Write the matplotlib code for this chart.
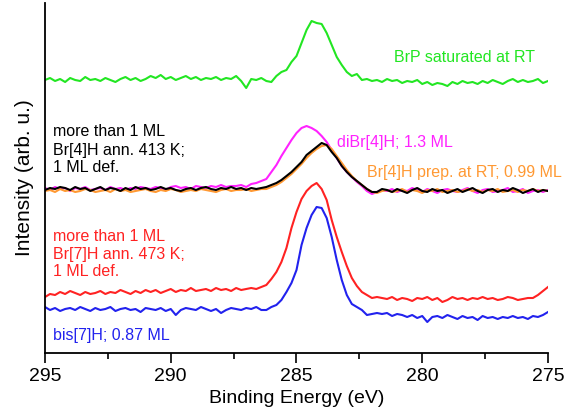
import numpy as np
import matplotlib.pyplot as plt

plt.rcParams['font.family'] = ['Liberation Sans', 'DejaVu Sans']

# binding energy grid (eV), 0.2 eV steps from 295 down to 275
energy = np.linspace(295.0, 275.0, 101)

# Br 3d / Br region spectra, background-levelled intensities (arb. u.)
brp_sat = [0, 2, -1, 1, -2, 2, 0, -1, 3, 0,
           1, -1, 2, 0, -2, 1, 3, 0, 2, -1,
           1, 4, 2, 5, 1, 3, 0, 2, 4, 1,
           3, 0, 2, 1, 3, 0, 2, 1, 4, -1,
           -8, 1, 0, 2, -1, -2, 4, 8, 10, 18,
           24, 37, 50, 59, 57, 56, 47, 35, 23, 15,
           8, 4, 6, 0, 1, -1, 0, -2, 1, -1,
           0, -3, -1, -2, 0, -4, -2, -5, -3, -4,
           -6, -2, -4, -1, -3, -2, -4, -1, -3, 0,
           -2, -4, -1, 1, -2, 0, -2, -1, 1, -3,
           -1]

dibr4h = [1, -1, 2, 0, 1, -2, 1, 0, 2, -1,
          0, 1, -1, 2, 0, 1, -1, 1, 0, 2,
          1, 0, 2, 1, -1, 2, 3, 1, 2, 0,
          3, 2, 1, 3, 2, 4, 2, 3, 3, 4,
          2, 5, 6, 8, 10, 17, 24, 33, 41, 49,
          56, 61, 63, 61, 58, 53, 47, 39, 31, 23,
          17, 12, 7, 3, -2, -5, -3, -1, -2, 0,
          -3, -1, -2, 1, -1, -3, 0, -2, -4, -1,
          0, -2, -3, -1, 1, -2, -4, -1, 0, -3,
          -2, -1, 1, -3, -2, 0, -4, -2, -1, -3,
          -1]

br4h_rt = [-2, -1, -3, 0, -2, -1, -3, -2, 0, -1,
           -3, -2, -1, -3, 0, -2, -1, -3, -2, -1,
           0, -2, -3, -1, -2, 0, -1, -3, -2, -1,
           -2, 0, -1, -2, -3, -1, 0, -2, -1, -1,
           0, -2, -1, 0, 0, 2, 4, 7, 11, 15,
           20, 25, 31, 36, 40, 43, 44, 40, 33, 26,
           19, 13, 8, 4, 0, -3, -4, -2, -1, -3,
           -2, 0, -3, -1, -2, -4, -1, -2, 0, -3,
           -2, -1, -3, -2, 0, -2, -1, -3, -1, -2,
           0, -3, -2, -1, -3, -1, -2, 0, -2, -1,
           -2]

br4h_ann = [-1, 1, 0, 2, 1, -1, 2, 0, 1, -2,
            0, 2, -1, 1, 0, -2, 1, -1, 2, 0,
            1, -1, 0, 2, 0, 1, -1, -2, 0, 1,
            -1, 1, 2, 0, -1, 1, 0, 2, 0, 1,
            -1, 1, 0, 1, 2, 4, 6, 9, 13, 17,
            22, 27, 34, 38, 42, 46, 44, 37, 31, 23,
            17, 12, 8, 4, 0, -3, -3, 0, -1, -3,
            0, -2, -4, -1, 1, -2, -3, 0, -2, -1,
            -4, -2, 0, -3, -1, 1, -2, -4, -1, 0,
            -3, -1, -2, 1, -1, -4, -2, 0, -3, -1,
            -2]

br7h_ann = [-2, 1, 0, 3, 1, 4, 2, 0, 3, 1,
            2, 4, 1, 3, 2, 5, 3, 1, 4, 2,
            5, 3, 5, 2, 4, 6, 3, 5, 4, 7,
            4, 5, 6, 4, 7, 5, 6, 4, 7, 5,
            6, 7, 6, 8, 10, 16, 23, 33, 47, 67,
            83, 96, 104, 109, 112, 106, 95, 75, 58, 43,
            29, 17, 9, 3, 0, -3, -2, -3, -4, -2,
            -5, -3, -4, -6, -3, -4, -2, -5, -3, -7,
            -5, -2, -4, -3, -5, -3, -4, -2, -4, -3,
            -5, -4, -2, -3, -5, -4, -3, -3, 0, 4,
            8]

bis7h = [1, -2, 0, -3, -1, 0, -2, 1, -1, -3,
         0, -2, -1, 1, -3, -1, 0, -2, -1, -4,
         0, -1, -2, 0, -3, -1, -7, -2, 0, -1,
         -2, 1, -1, -3, -1, -5, -2, 0, -1, -2,
         0, -1, 1, -2, -2, 1, 3, 8, 16, 25,
         38, 63, 80, 93, 101, 100, 90, 71, 48, 28,
         13, 4, 1, -2, -7, -6, -5, -6, -5, -8,
         -6, -7, -9, -7, -10, -8, -14, -9, -8, -10,
         -7, -9, -11, -8, -10, -9, -12, -8, -10, -9,
         -11, -9, -10, -8, -10, -9, -11, -8, -9, -7,
         -4]

# vertical stacking of the spectra
offsets = {'brp': 295, 'br4': 186, 'br7': 80, 'bis7': 67}

fig = plt.figure(figsize=(5.66, 4.15), dpi=100)
ax = fig.add_axes([45 / 566, 62 / 415, 503 / 566, 350 / 415])

lw = 1.5
ax.plot(energy, np.array(brp_sat) + offsets['brp'], color='#22e622', lw=lw)
ax.plot(energy, np.array(dibr4h) + offsets['br4'], color='#ff22ff', lw=lw)
ax.plot(energy, np.array(br4h_rt) + offsets['br4'], color='#ff9933', lw=lw)
ax.plot(energy, np.array(br4h_ann) + offsets['br4'], color='black', lw=lw)
ax.plot(energy, np.array(br7h_ann) + offsets['br7'], color='#ff2222', lw=lw)
ax.plot(energy, np.array(bis7h) + offsets['bis7'], color='#2222ee', lw=lw)

fs = 11.5
ax.text(275.5, 318, 'BrP saturated at RT', color='#22e622', fontsize=fs,
        ha='right', va='center')
ax.text(283.4, 233, 'diBr[4]H; 1.3 ML', color='#ff22ff', fontsize=fs,
        va='center')
ax.text(282.2, 202, 'Br[4]H prep. at RT; 0.99 ML', color='#ff9933',
        fontsize=fs, va='center')
ax.text(294.7, 225, 'more than 1 ML\nBr[4]H ann. 413 K;\n1 ML def.',
        color='black', fontsize=fs, va='center', linespacing=1.25)
ax.text(294.7, 121, 'more than 1 ML\nBr[7]H ann. 473 K;\n1 ML def.',
        color='#ff2222', fontsize=fs, va='center', linespacing=1.25)
ax.text(294.7, 40, 'bis[7]H; 0.87 ML', color='#2222ee', fontsize=fs,
        va='center')

ax.set_xlim(295, 275)
ax.set_ylim(22, 372)
ax.set_xticks([295, 290, 285, 280, 275])
ax.set_xticks(np.arange(275, 295, 2.5), minor=True)
ax.set_yticks([])
ax.tick_params(axis='x', which='major', direction='out', length=7,
               width=1.2, labelsize=14, pad=3.5)
ax.tick_params(axis='x', which='minor', direction='out', length=4.5, width=1.2)
ax.spines['top'].set_visible(False)
ax.spines['right'].set_visible(False)
ax.spines['left'].set_linewidth(1.3)
ax.spines['bottom'].set_linewidth(1.3)

ax.set_xlabel('Binding Energy (eV)', fontsize=14, labelpad=4)
ax.set_ylabel('Intensity (arb. u.)', fontsize=15, labelpad=8)

fig.savefig('out.png', dpi=100)
